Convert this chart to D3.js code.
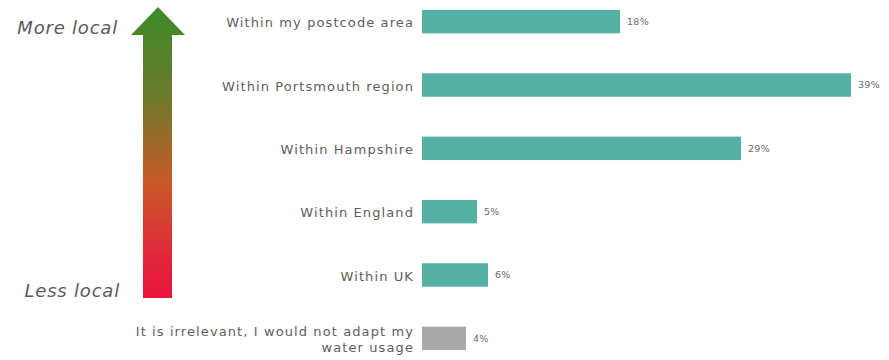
<!DOCTYPE html>
<html>
<head>
<meta charset="utf-8">
<script src="https://cdn.jsdelivr.net/npm/d3@7"></script>
<style>
  html, body { margin: 0; padding: 0; background: #ffffff; }
  svg { display: block; }
  text { font-family: "DejaVu Sans", "Noto Sans", sans-serif; }
</style>
</head>
<body>
<svg id="chart" width="889" height="360"></svg>
<script>
// Survey answers, listed from most local to least local
const categories = [
  "Within my postcode area",
  "Within Portsmouth region",
  "Within Hampshire",
  "Within England",
  "Within UK",
  "It is irrelevant, I would not adapt my|water usage"
];
const values = [18, 39, 29, 5, 6, 4];
const barGroups = ["local", "local", "local", "local", "local", "none"];
const scaleLabels = ["More local", "Less local"];

const svg = d3.select("#chart");

const x = d3.scaleLinear().domain([0, 39]).range([422, 851]);
const y = d3.scaleBand()
  .domain(d3.range(categories.length))
  .range([-10, 370])
  .paddingInner(0.63)
  .paddingOuter(0.315);

const colour = d3.scaleOrdinal().domain(["local", "none"]).range(["#55b0a6", "#a9a9a9"]);

// Gradient for the locality arrow: green at the top, red at the bottom
const defs = svg.append("defs");
const grad = defs.append("linearGradient")
  .attr("id", "localGrad")
  .attr("x1", 0).attr("y1", 0).attr("x2", 0).attr("y2", 1);
[[0, "#3d8a2b"], [0.3, "#6a7b2a"], [0.6, "#c95a27"], [0.85, "#e0283a"], [1, "#ea153c"]]
  .forEach(([o, c]) => grad.append("stop").attr("offset", o).attr("stop-color", c));

const arrow = d3.path();
arrow.moveTo(158, 7);
arrow.lineTo(185, 35);
arrow.lineTo(172, 35);
arrow.lineTo(172, 298);
arrow.lineTo(143, 298);
arrow.lineTo(143, 35);
arrow.lineTo(131, 35);
arrow.closePath();
svg.append("path")
  .attr("d", arrow.toString())
  .attr("fill", "url(#localGrad)");

svg.append("text")
  .attr("x", 118).attr("y", 34)
  .attr("text-anchor", "end")
  .attr("font-size", 18)
  .attr("letter-spacing", 0.8)
  .attr("font-style", "italic")
  .attr("fill", "#5a5a5a")
  .text(scaleLabels[0]);

svg.append("text")
  .attr("x", 120).attr("y", 297)
  .attr("text-anchor", "end")
  .attr("font-size", 18)
  .attr("letter-spacing", 0.8)
  .attr("font-style", "italic")
  .attr("fill", "#5a5a5a")
  .text(scaleLabels[1]);

// Bars
const rows = svg.append("g").selectAll("g")
  .data(values.map((v, i) => ({ v, i, label: categories[i], group: barGroups[i] })))
  .join("g");

rows.append("rect")
  .attr("x", x(0))
  .attr("y", d => y(d.i))
  .attr("width", d => x(d.v) - x(0))
  .attr("height", y.bandwidth())
  .attr("fill", d => colour(d.group));

rows.append("text")
  .attr("x", d => x(d.v) + 7)
  .attr("y", d => y(d.i) + y.bandwidth() / 2)
  .attr("dy", "0.35em")
  .attr("font-size", 9.5)
  .attr("letter-spacing", 0.3)
  .attr("fill", "#6a6a6a")
  .text(d => d.v + "%");

// Category labels, right-aligned against the bars
rows.each(function (d) {
  const lines = d.label.split("|");
  const t = d3.select(this).append("text")
    .attr("x", 414)
    .attr("text-anchor", "end")
    .attr("font-size", 13)
    .attr("letter-spacing", 1.1)
    .attr("fill", "#5e5e5e");
  const cy = y(d.i) + y.bandwidth() / 2;
  const lh = 16;
  lines.forEach((ln, k) => {
    t.append("tspan")
      .attr("x", 414)
      .attr("y", cy + (k - (lines.length - 1) / 2) * lh + 1)
      .attr("dy", "0.35em")
      .text(ln);
  });
});
</script>
</body>
</html>
